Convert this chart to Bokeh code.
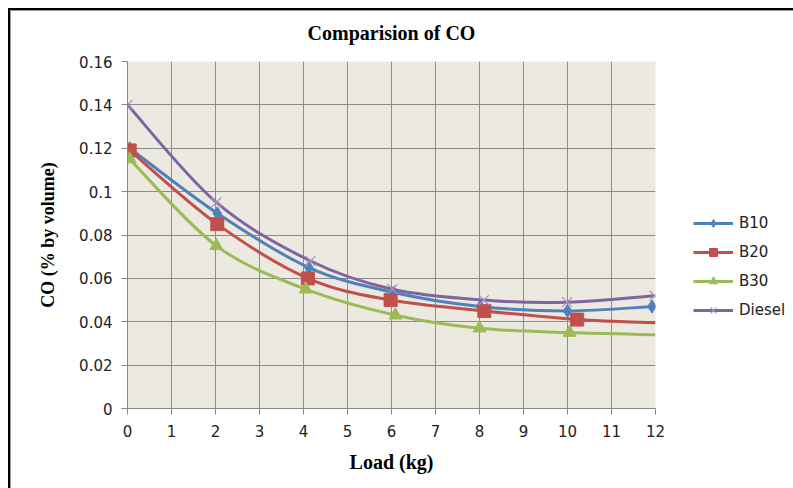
from bokeh.plotting import figure
from bokeh.models import (Range1d, FixedTicker, CustomJSTickFormatter, Legend, LegendItem)
from bokeh.embed import file_html
from bokeh.resources import INLINE

# ---- data ----
title_text = "Comparision of CO"
x_label = "Load (kg)"
y_label = "CO (% by volume)"

series_names = ["B10", "B20", "B30", "Diesel"]

b10_load = [0.05, 2.04, 4.12, 6.05, 8.02, 10.0, 11.92]
b10_co = [0.120, 0.090, 0.065, 0.0535, 0.047, 0.045, 0.047]

b20_load = [0.05, 2.04, 4.10, 5.98, 8.11, 10.22, 12.0]
b20_co = [0.119, 0.085, 0.060, 0.050, 0.045, 0.041, 0.0395]

b30_load = [0.05, 2.02, 4.05, 6.09, 8.0, 10.05, 12.0]
b30_co = [0.115, 0.075, 0.055, 0.043, 0.037, 0.035, 0.034]

diesel_load = [0.0, 2.02, 4.16, 6.02, 8.10, 9.99, 11.98]
diesel_co = [0.140, 0.095, 0.068, 0.055, 0.050, 0.049, 0.052]

# number of points that carry a marker (last B20/B30 points have none)
marked_points = [7, 6, 6, 7]

x_ticks = [0, 1, 2, 3, 4, 5, 6, 7, 8, 9, 10, 11, 12]
y_ticks = [0, 0.02, 0.04, 0.06, 0.08, 0.10, 0.12, 0.14, 0.16]

# ---- styling ----
colors = ["#4F81BD", "#C0504D", "#9BBB59", "#8064A2"]
markers = ["diamond", "square", "triangle", "x"]
marker_sizes = [13, 13, 13, 14]

xs_all = [b10_load, b20_load, b30_load, diesel_load]
ys_all = [b10_co, b20_co, b30_co, diesel_co]


def smooth_segments(xs, ys):
    """Excel-style smoothed line: cubic Bezier control points from neighbours."""
    n = len(xs)
    x0, y0, x1, y1, cx0, cy0, cx1, cy1 = [], [], [], [], [], [], [], []
    for i in range(n - 1):
        pxm = xs[i - 1] if i > 0 else xs[i]
        pym = ys[i - 1] if i > 0 else ys[i]
        pxp = xs[i + 2] if i + 2 < n else xs[i + 1]
        pyp = ys[i + 2] if i + 2 < n else ys[i + 1]
        x0.append(xs[i]); y0.append(ys[i])
        x1.append(xs[i + 1]); y1.append(ys[i + 1])
        cx0.append(xs[i] + (xs[i + 1] - pxm) / 6.0)
        cy0.append(ys[i] + (ys[i + 1] - pym) / 6.0)
        cx1.append(xs[i + 1] - (pxp - xs[i]) / 6.0)
        cy1.append(ys[i + 1] - (pyp - ys[i]) / 6.0)
    return dict(x0=x0, y0=y0, x1=x1, y1=y1, cx0=cx0, cy0=cy0, cx1=cx1, cy1=cy1)


p = figure(frame_width=528, frame_height=347, output_backend="svg", toolbar_location=None,
           x_range=Range1d(0, 12), y_range=Range1d(0, 0.16),
           min_border_left=127, min_border_right=138, min_border_top=61, min_border_bottom=80,
           background_fill_color="#ECEAE0", border_fill_alpha=0,
           outline_line_color=None)
# chart-area frame (black edge with grey inner shadow) drawn behind the transparent canvas
p.styles = {
    "background": ("linear-gradient(#000,#000) 8px 8px / 100% 2px no-repeat, "
                   "linear-gradient(#000,#000) 8px 8px / 2px 100% no-repeat, "
                   "linear-gradient(#9a9a9a,#9a9a9a) 10px 10px / 100% 1px no-repeat, "
                   "linear-gradient(#9a9a9a,#9a9a9a) 10px 10px / 1px 100% no-repeat, "
                   "#ffffff"),
}

p.title.text = title_text
p.title.align = "center"
p.title.text_font = "Liberation Serif"
p.title.text_font_style = "bold"
p.title.text_font_size = "20px"
p.title.text_color = "black"
p.title.standoff = 36

for ax in (p.xaxis[0], p.yaxis[0]):
    ax.axis_line_color = "#868686"
    ax.major_tick_line_color = "#868686"
    ax.major_tick_out = 6
    ax.major_tick_in = 0
    ax.minor_tick_line_color = None
    ax.major_label_text_font = "DejaVu Sans"
    ax.major_label_text_font_size = "15px"
    ax.major_label_text_color = "#222222"
    ax.axis_label_text_font = "Liberation Serif"
    ax.axis_label_text_font_style = "bold"
    ax.axis_label_text_color = "black"

p.xaxis.ticker = FixedTicker(ticks=x_ticks)
p.yaxis.ticker = FixedTicker(ticks=y_ticks)
p.yaxis.formatter = CustomJSTickFormatter(code="return String(Math.round(tick*100)/100);")
p.xaxis.major_label_standoff = 10
p.yaxis.major_label_standoff = 9
p.xaxis.axis_label = x_label
p.yaxis.axis_label = y_label
p.xaxis.axis_label_text_font_size = "20px"
p.yaxis.axis_label_text_font_size = "18px"
p.xaxis.axis_label_standoff = 11
p.yaxis.axis_label_standoff = 18

p.xgrid.ticker = FixedTicker(ticks=x_ticks)
p.ygrid.ticker = FixedTicker(ticks=y_ticks)
for g in (p.xgrid[0], p.ygrid[0]):
    g.grid_line_color = "#8C8C8C"
    g.grid_line_width = 1

items = []
for name, xs, ys, c, m, ms, nm in zip(series_names, xs_all, ys_all, colors, markers,
                                       marker_sizes, marked_points):
    seg = smooth_segments(xs, ys)
    lr = p.bezier(x0="x0", y0="y0", x1="x1", y1="y1", cx0="cx0", cy0="cy0",
                  cx1="cx1", cy1="cy1", source=seg, line_color=c, line_width=3)
    if m == "x":
        sr = p.scatter(xs[:nm], ys[:nm], marker=m, size=ms, line_color="#A594C4",
                       line_width=1.2)
    else:
        sr = p.scatter(xs[:nm], ys[:nm], marker=m, size=ms, fill_color=c,
                       line_color=c, line_width=1)
    items.append(LegendItem(label=name, renderers=[lr, sr]))

legend = Legend(items=items, location=(38, 88), orientation="vertical",
                glyph_width=40, glyph_height=20, label_height=20, spacing=9,
                padding=0, margin=0, border_line_alpha=0, background_fill_alpha=0,
                label_text_font="DejaVu Sans", label_text_font_size="15px",
                label_text_color="#222222", label_standoff=6)
p.add_layout(legend, "right")

open("out.html", "w").write(file_html(p, INLINE))
